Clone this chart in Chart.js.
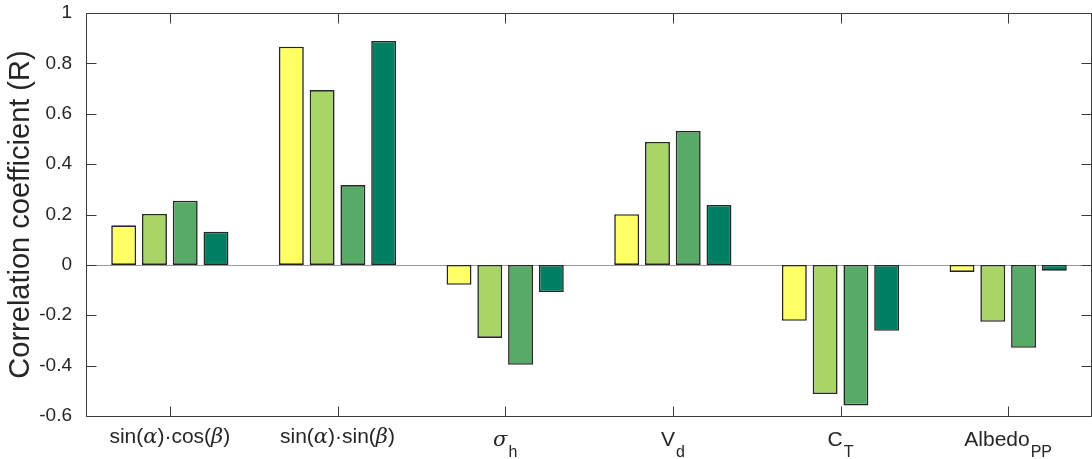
<!DOCTYPE html>
<html>
<head>
<meta charset="utf-8">
<script src="https://cdn.jsdelivr.net/npm/chart.js@4.4.0/dist/chart.umd.min.js"></script>
<style>
  html, body { margin: 0; padding: 0; background: #fff; }
  #wrap { width: 1092px; height: 459px; }
</style>
</head>
<body>
<div id="wrap"><canvas id="myChart"></canvas></div>
<script>
// data (underscore = subscript)
var categories = ['sin(α)·cos(β)', 'sin(α)·sin(β)', 'σ_h', 'V_d', 'C_T', 'Albedo_PP'];
var series1 = [0.157, 0.866, -0.079, 0.201, -0.222, -0.028];
var series2 = [0.202, 0.694, -0.290, 0.488, -0.513, -0.226];
var series3 = [0.255, 0.317, -0.397, 0.532, -0.558, -0.329];
var series4 = [0.132, 0.889, -0.108, 0.238, -0.262, -0.023];
var seriesColors = ['#ffff66', '#a9d567', '#58ab66', '#007f63'];
var yTicks = [-0.6, -0.4, -0.2, 0, 0.2, 0.4, 0.6, 0.8, 1];
var yTitle = 'Correlation coefficient (R)';

var textColor = '#262626';
var fontFam = '"Liberation Sans", Arial, Helvetica, sans-serif';
var greek = /[αβσ]/;

function drawLabel(ctx, label, cx, base) {
  var parts = label.split('_');
  var main = parts[0], sub = parts[1] || '';
  // split main into runs so greek letters get italic
  var runs = [];
  for (var i = 0; i < main.length; i++) {
    var ch = main[i];
    var it = greek.test(ch);
    if (runs.length && runs[runs.length - 1].it === it) runs[runs.length - 1].t += ch;
    else runs.push({ t: ch, it: it });
  }
  var mainFont = '21px ' + fontFam;
  var itFont = 'italic 21px "DejaVu Serif", "Liberation Serif", serif';
  var subFont = '16px ' + fontFam;
  var w = 0;
  runs.forEach(function (r) {
    ctx.font = r.it ? itFont : mainFont;
    r.w = ctx.measureText(r.t).width;
    w += r.w;
  });
  ctx.font = subFont;
  var subW = sub ? ctx.measureText(sub).width + 1 : 0;
  var x = cx - (w + subW) / 2;
  var b = sub ? base + 3 : base;
  runs.forEach(function (r) {
    ctx.font = r.it ? itFont : mainFont;
    ctx.fillText(r.t, x, b);
    x += r.w;
  });
  if (sub) {
    ctx.font = subFont;
    ctx.fillText(sub, x + 1, b + 11);
  }
}

var boxPlugin = {
  id: 'box',
  beforeDatasetsDraw: function (chart) {
    var ctx = chart.ctx, a = chart.chartArea, y = chart.scales.y;
    var y0 = Math.round(y.getPixelForValue(0)) + 0.5;
    ctx.save();
    ctx.strokeStyle = '#9a9a9a';
    ctx.lineWidth = 1;
    ctx.beginPath();
    ctx.moveTo(a.left, y0);
    ctx.lineTo(a.right, y0);
    ctx.stroke();
    ctx.restore();
  },
  afterDraw: function (chart) {
    var ctx = chart.ctx, a = chart.chartArea;
    var x = chart.scales.x, y = chart.scales.y;
    var tl = 10;
    ctx.save();
    ctx.strokeStyle = '#3a3a3a';
    ctx.lineWidth = 1;
    var L = Math.round(a.left) + 0.5, R = Math.round(a.right) - 0.5;
    var T = Math.round(a.top) + 0.5, B = Math.round(a.bottom) + 0.5;
    ctx.beginPath();
    ctx.rect(L, T, R - L, B - T);
    // inward ticks
    y.ticks.forEach(function (t) {
      var py = Math.round(y.getPixelForValue(t.value)) + 0.5;
      ctx.moveTo(L, py); ctx.lineTo(L + tl, py);
      ctx.moveTo(R, py); ctx.lineTo(R - tl, py);
    });
    categories.forEach(function (c, i) {
      var px = Math.round(x.getPixelForValue(i)) + 0.5;
      ctx.moveTo(px, B); ctx.lineTo(px, B - tl);
      ctx.moveTo(px, T); ctx.lineTo(px, T + tl);
    });
    ctx.stroke();

    ctx.fillStyle = textColor;
    ctx.textAlign = 'left';
    ctx.textBaseline = 'alphabetic';
    categories.forEach(function (c, i) {
      drawLabel(ctx, c, x.getPixelForValue(i), a.bottom + 27);
    });
    ctx.restore();
  }
};

var datasets = [series1, series2, series3, series4].map(function (s, i) {
  return {
    data: s,
    backgroundColor: seriesColors[i],
    borderColor: '#262626',
    borderWidth: 1.6,
    borderSkipped: false,
    categoryPercentage: 0.734,
    barPercentage: 0.81
  };
});

const ctx = document.getElementById('myChart').getContext('2d');
const myChart = new Chart(ctx, {
  type: 'bar',
  data: { labels: categories, datasets: datasets },
  options: {
    responsive: true,
    maintainAspectRatio: false,
    animation: false,
    layout: { padding: { top: 13, right: 0, left: 0, bottom: 0 } },
    plugins: { legend: { display: false }, tooltip: { enabled: false } },
    scales: {
      x: {
        grid: { display: false },
        border: { display: false },
        ticks: { display: false },
        afterFit: function (s) { s.height = 43; s.paddingLeft = 0; s.paddingRight = 0; }
      },
      y: {
        min: -0.6,
        max: 1,
        grid: { display: false },
        border: { display: false },
        afterBuildTicks: function (s) { s.ticks = yTicks.map(function (v) { return { value: v }; }); },
        ticks: {
          color: textColor,
          padding: 6,
          font: { family: fontFam, size: 19 },
          callback: function (v) { return String(Math.round(v * 10) / 10); }
        },
        title: {
          display: true,
          text: yTitle,
          color: textColor,
          font: { family: fontFam, size: 29 },
          padding: { top: 4, bottom: 0 }
        },
        afterFit: function (s) { s.width = 86; s.paddingTop = 0; s.paddingBottom = 0; }
      }
    }
  },
  plugins: [boxPlugin]
});
</script>
</body>
</html>
